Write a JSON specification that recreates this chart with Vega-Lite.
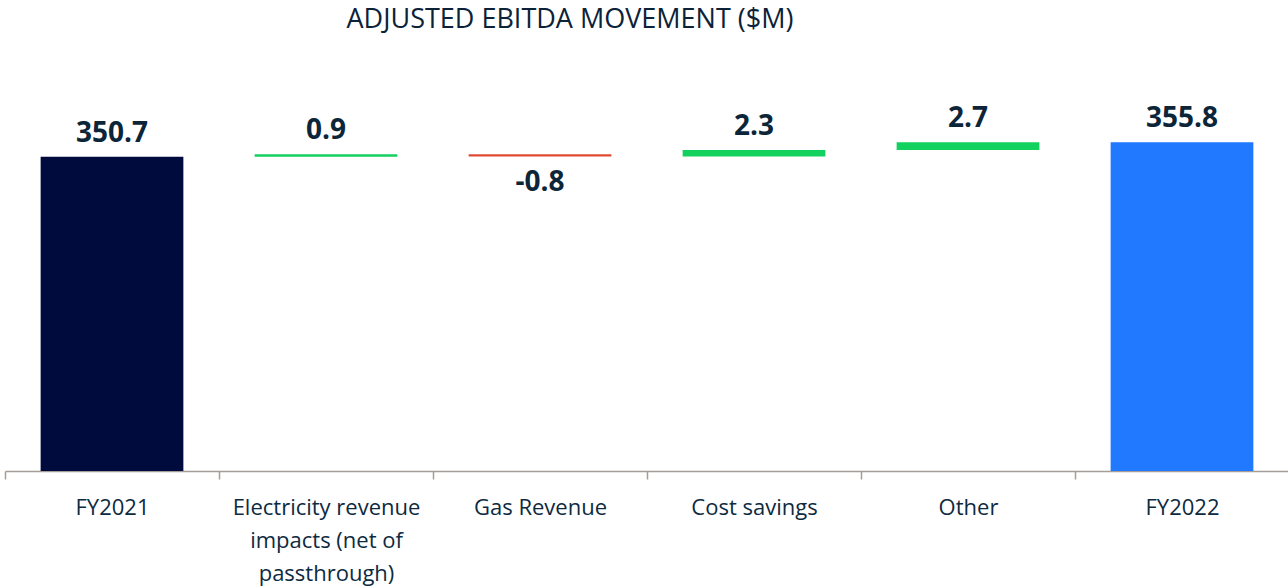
{
  "$schema": "https://vega.github.io/schema/vega-lite/v6.json",
  "autosize": "none",
  "width": 1284,
  "height": 369,
  "padding": {"left": 5, "top": 102, "right": 0, "bottom": 116},
  "background": "white",
  "title": {
    "text": "ADJUSTED EBITDA MOVEMENT ($M)",
    "font": "Open Sans",
    "fontSize": 27,
    "fontWeight": "normal",
    "color": "#0b2238",
    "anchor": "middle",
    "frame": "group",
    "dx": -77,
    "offset": 68
  },
  "data": {
    "values": [
      {"category": "FY2021", "value": 350.7, "start": 240, "end": 350.7, "kind": "start", "label": "350.7"},
      {"category": "Electricity revenue impacts (net of passthrough)", "value": 0.9, "start": 350.7, "end": 351.6, "kind": "increase", "label": "0.9"},
      {"category": "Gas Revenue", "value": -0.8, "start": 351.6, "end": 350.8, "kind": "decrease", "label": "-0.8"},
      {"category": "Cost savings", "value": 2.3, "start": 350.8, "end": 353.1, "kind": "increase", "label": "2.3"},
      {"category": "Other", "value": 2.7, "start": 353.1, "end": 355.8, "kind": "increase", "label": "2.7"},
      {"category": "FY2022", "value": 355.8, "start": 240, "end": 355.8, "kind": "end", "label": "355.8"}
    ]
  },
  "encoding": {
    "x": {
      "field": "category",
      "type": "nominal",
      "sort": null,
      "scale": {"paddingInner": 0, "paddingOuter": 0},
      "axis": {
        "title": null,
        "labelAngle": 0,
        "labelFont": "Open Sans",
        "labelFontSize": 22,
        "labelColor": "#0d2a3f",
        "labelLineHeight": 33,
        "labelPadding": 18,
        "labelLimit": 0,
        "tickBand": "extent",
        "tickSize": 8,
        "tickColor": "#a59d96",
        "domainColor": "#a59d96",
        "domainWidth": 1.5,
        "tickWidth": 1.5,
        "grid": false,
        "labelExpr": "datum.label == 'Electricity revenue impacts (net of passthrough)' ? ['Electricity revenue', 'impacts (net of', 'passthrough)'] : datum.label"
      }
    }
  },
  "layer": [
    {
      "mark": {"type": "bar", "clip": false, "width": {"band": 0.667}},
      "encoding": {
        "y": {
          "field": "start",
          "type": "quantitative",
          "scale": {"domain": [240, 370], "nice": false, "zero": false},
          "axis": null
        },
        "y2": {"field": "end"},
        "color": {
          "field": "kind",
          "type": "nominal",
          "scale": {
            "domain": ["start", "increase", "decrease", "end"],
            "range": ["#000b3d", "#13d15e", "#e04a33", "#2079ff"]
          },
          "legend": null
        }
      }
    },
    {
      "transform": [{"filter": "datum.value >= 0"}],
      "mark": {
        "type": "text",
        "font": "Open Sans",
        "fontSize": 28,
        "fontWeight": "bold",
        "color": "#0c2538",
        "baseline": "alphabetic",
        "dy": -15
      },
      "encoding": {
        "y": {"field": "end", "type": "quantitative"},
        "text": {"field": "label", "type": "nominal"}
      }
    },
    {
      "transform": [{"filter": "datum.value < 0"}],
      "mark": {
        "type": "text",
        "font": "Open Sans",
        "fontSize": 28,
        "fontWeight": "bold",
        "color": "#0c2538",
        "baseline": "top",
        "dy": 13
      },
      "encoding": {
        "y": {"field": "end", "type": "quantitative"},
        "text": {"field": "label", "type": "nominal"}
      }
    }
  ],
  "config": {
    "view": {"stroke": null}
  }
}
